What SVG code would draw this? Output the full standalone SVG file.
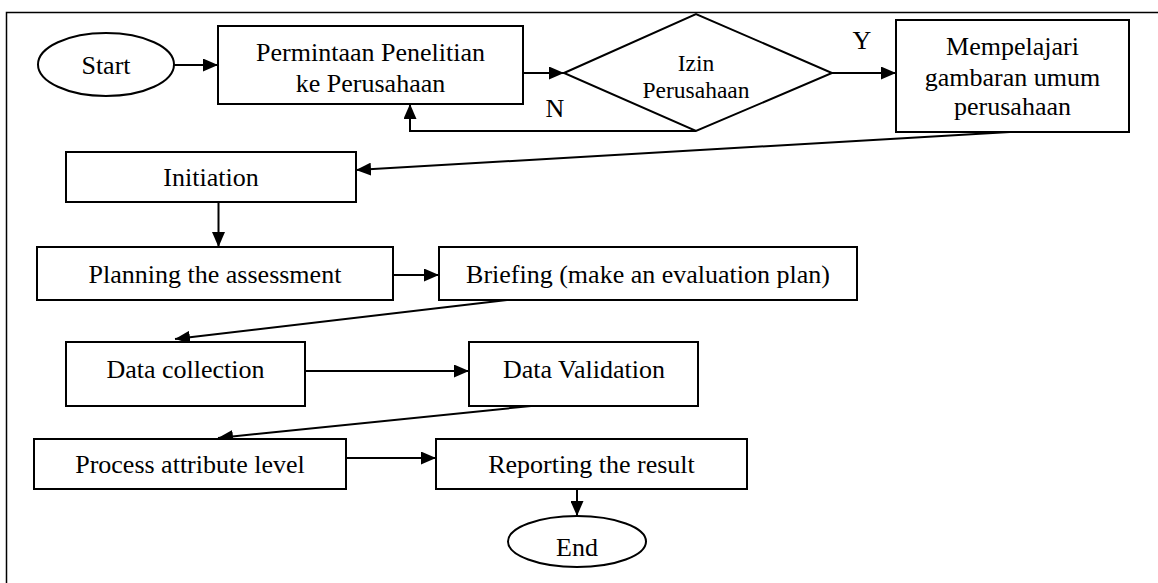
<svg xmlns="http://www.w3.org/2000/svg" width="1158" height="583" viewBox="0 0 1158 583">
<style>
.bg{fill:#fff}
.frame{fill:none;stroke:#000;stroke-width:1.5}
.box{fill:#fff;stroke:#000;stroke-width:2}
.t{font-family:"Liberation Serif","Times New Roman",serif;font-size:26px;fill:#000;text-anchor:middle}
.s{font-size:23.5px}
.c{fill:none;stroke:#000;stroke-width:2;marker-end:url(#ah)}
</style>
<defs>
<marker id="ah" markerUnits="userSpaceOnUse" markerWidth="15" markerHeight="13" refX="15" refY="6.5" orient="auto">
<path d="M0,0 L15,6.5 L0,13 Z" fill="#000"/>
</marker>
</defs>
<rect class="bg" x="0" y="0" width="1158" height="583"/>
<path class="frame" d="M6.5,583 V12.5 H1158"/>
<g id="connectors">
<path class="c" d="M174,65 H218"/>
<path class="c" d="M523,73 H564"/>
<path class="c" d="M832,73 H896"/>
<path class="c" d="M696,131 H410 V104"/>
<path class="c" d="M1010,132 L356,170"/>
<path class="c" d="M218.5,202 V247"/>
<path class="c" d="M393,275 H439"/>
<path class="c" d="M507,300 L175,339"/>
<path class="c" d="M531,406 L218,438"/>
<path class="c" d="M305,371 H469"/>
<path class="c" d="M346,458 H436"/>
<path class="c" d="M577,489 V516"/>
</g>
<g id="start">
<ellipse class="box" cx="106" cy="64.5" rx="68" ry="31.5"/>
<text class="t" x="106" y="74">Start</text>
</g>
<g id="permintaan">
<rect class="box" x="218" y="26" width="305" height="78"/>
<text class="t" x="370.5" y="61">Permintaan Penelitian</text>
<text class="t" x="370.5" y="92">ke Perusahaan</text>
</g>
<g id="izin">
<polygon class="box" points="564,73 696,14 832,73 696,131"/>
<text class="t s" x="696" y="71">Izin</text>
<text class="t s" x="696" y="98">Perusahaan</text>
</g>
<g id="label-y"><text class="t" x="862" y="49">Y</text></g>
<g id="label-n"><text class="t" x="555" y="117">N</text></g>
<g id="mempelajari">
<rect class="box" x="896" y="20" width="233" height="112"/>
<text class="t" x="1012.5" y="55">Mempelajari</text>
<text class="t" x="1012.5" y="86">gambaran umum</text>
<text class="t" x="1012.5" y="115">perusahaan</text>
</g>
<g id="initiation">
<rect class="box" x="66" y="152" width="290" height="50"/>
<text class="t" x="211" y="186">Initiation</text>
</g>
<g id="planning">
<rect class="box" x="37" y="247" width="356" height="53"/>
<text class="t" x="215" y="283">Planning the assessment</text>
</g>
<g id="briefing">
<rect class="box" x="439" y="247" width="418" height="53"/>
<text class="t" x="648" y="283">Briefing (make an evaluation plan)</text>
</g>
<g id="data-collection">
<rect class="box" x="66" y="342" width="239" height="64"/>
<text class="t" x="185.5" y="378">Data collection</text>
</g>
<g id="data-validation">
<rect class="box" x="469" y="342" width="229" height="64"/>
<text class="t" x="584" y="378">Data Validation</text>
</g>
<g id="process-attribute">
<rect class="box" x="34" y="439" width="312" height="50"/>
<text class="t" x="190" y="473">Process attribute level</text>
</g>
<g id="reporting">
<rect class="box" x="436" y="439" width="311" height="50"/>
<text class="t" x="591.5" y="473">Reporting the result</text>
</g>
<g id="end">
<ellipse class="box" cx="577" cy="541.5" rx="69" ry="25.5"/>
<text class="t" x="577" y="556">End</text>
</g>
</svg>
